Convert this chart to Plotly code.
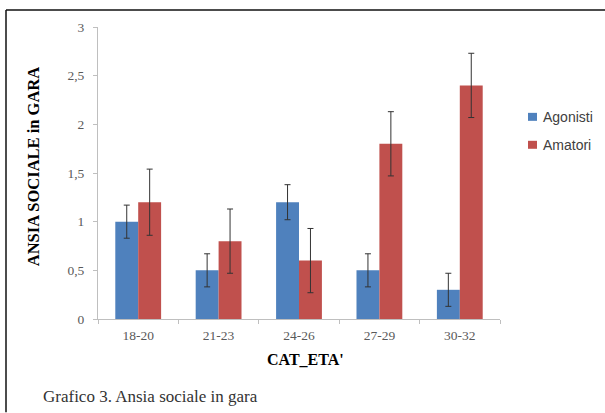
import plotly.graph_objects as go

categories = ["18-20", "21-23", "24-26", "27-29", "30-32"]
agonisti = [1.0, 0.5, 1.2, 0.5, 0.3]
agonisti_err = [0.17, 0.17, 0.18, 0.17, 0.17]
amatori = [1.2, 0.8, 0.6, 1.8, 2.4]
amatori_err = [0.34, 0.33, 0.33, 0.33, 0.33]
y_ticks = [0, 0.5, 1, 1.5, 2, 2.5, 3]
y_tick_labels = ["0", "0,5", "1", "1,5", "2", "2,5", "3"]
series_names = ["Agonisti", "Amatori"]
series_colors = ["#4F81BD", "#C0504D"]

W, H = 605, 413
L, R, T, B = 98, 105, 27, 93.5

def px_x(p):
    return (p - L) / (W - L - R)

def px_y(p):
    return 1 - (p - T) / (H - T - B)

fig = go.Figure()
for name, vals, errs, col in zip(series_names, [agonisti, amatori],
                                 [agonisti_err, amatori_err], series_colors):
    fig.add_trace(go.Bar(
        x=categories, y=vals, name=name, marker_color=col, marker_line_width=0,
        error_y=dict(type="data", array=errs, color="#333333", thickness=1, width=3),
        showlegend=False,
    ))

fig.update_layout(
    width=W, height=H,
    margin=dict(l=L, r=R, t=T, b=B, autoexpand=False),
    paper_bgcolor="white", plot_bgcolor="white",
    barmode="group", bargap=0.43, bargroupgap=0,
    showlegend=False,
    font=dict(family="Liberation Serif, serif", color="#595959"),
    xaxis=dict(
        showline=True, linecolor="#BFBFBF", linewidth=1,
        ticks="outside", ticklen=4, tickcolor="#BFBFBF",
        tickson="boundaries",
        tickfont=dict(family="Liberation Serif, serif", size=13.5, color="#595959"),
        ticklabelstandoff=4,
        showgrid=False, zeroline=False,
    ),
    yaxis=dict(
        range=[0, 3], showline=True, linecolor="#BFBFBF", linewidth=1,
        ticks="outside", ticklen=4, tickcolor="#BFBFBF",
        tickmode="array", tickvals=y_ticks, ticktext=y_tick_labels,
        tickfont=dict(family="Liberation Serif, serif", size=13.5, color="#595959"),
        ticklabelstandoff=6,
        showgrid=False, zeroline=False,
    ),
)

# axis titles
fig.add_annotation(
    text="<b>ANSIA SOCIALE in GARA</b>", textangle=-90,
    xref="paper", yref="paper", x=px_x(33.5), y=px_y(167),
    xanchor="center", yanchor="middle", showarrow=False,
    font=dict(family="Liberation Serif, Times New Roman, serif", size=16.5, color="#000000"),
)
fig.add_annotation(
    text="<b>CAT_ETA'</b>",
    xref="paper", yref="paper", x=px_x(305), y=px_y(360),
    xanchor="center", yanchor="middle", showarrow=False,
    font=dict(family="Liberation Serif, Times New Roman, serif", size=16, color="#000000"),
)

# legend (drawn manually)
legend_y = [117, 145]
for name, col, ly in zip(series_names, series_colors, legend_y):
    fig.add_shape(type="rect", xref="paper", yref="paper",
                  x0=px_x(528), x1=px_x(537), y0=px_y(ly - 4), y1=px_y(ly + 4),
                  fillcolor=col, line=dict(width=0))
    fig.add_annotation(
        text=name, xref="paper", yref="paper", x=px_x(541), y=px_y(ly),
        xanchor="left", yanchor="middle", showarrow=False,
        font=dict(family="Liberation Sans, Arial, sans-serif", size=14, color="#404040"),
    )

# caption
fig.add_annotation(
    text="Grafico 3. Ansia sociale in gara",
    xref="paper", yref="paper", x=px_x(41), y=px_y(397),
    xanchor="left", yanchor="middle", showarrow=False,
    font=dict(family="Liberation Serif, Times New Roman, serif", size=17, color="#333333"),
)

# outer frame lines (top and left)
fig.add_shape(type="line", xref="paper", yref="paper",
              x0=px_x(6), x1=px_x(605), y0=px_y(10), y1=px_y(10),
              line=dict(color="#111111", width=1.5))
fig.add_shape(type="line", xref="paper", yref="paper",
              x0=px_x(6), x1=px_x(6), y0=px_y(10), y1=px_y(413),
              line=dict(color="#111111", width=1.5))

fig.write_html("out.html",
               config={"displayModeBar": False},
               post_script="document.body.style.margin='0';document.body.style.overflow='hidden';")
